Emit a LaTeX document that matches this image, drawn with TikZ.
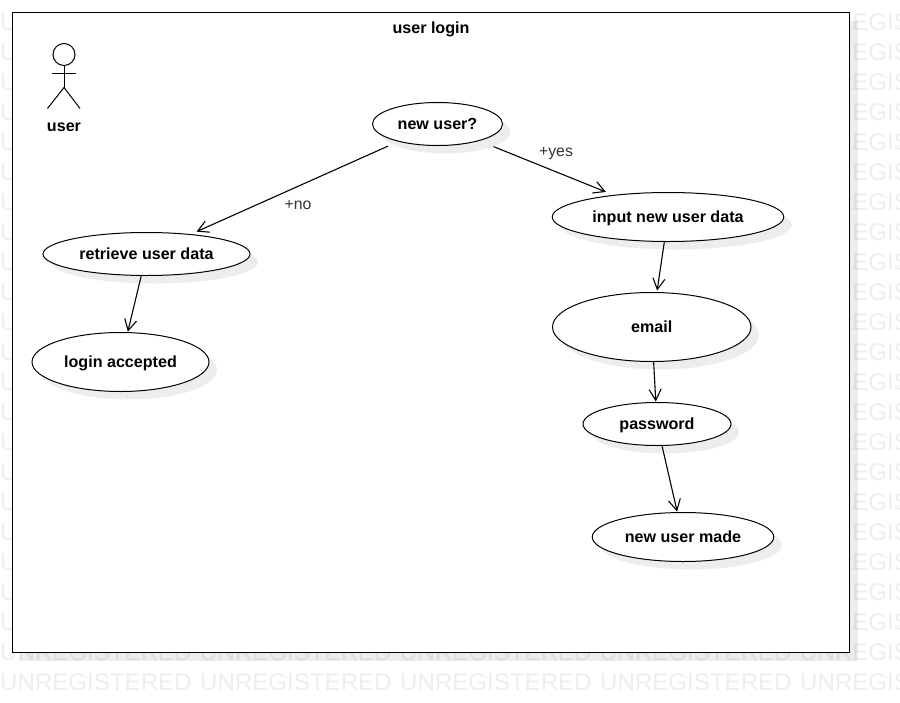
\documentclass[tikz,border=0pt]{standalone}
\usepackage{fontspec}
\setmainfont{Liberation Sans}
\usetikzlibrary{shapes.geometric,arrows.meta,shadows}
\definecolor{wmc}{HTML}{EEEEEE}
\tikzset{
  softshadow/.style={drop shadow={shadow xshift=8pt,shadow yshift=-8pt,fill=black,opacity=0.07}},
  usecase/.style={ellipse,draw=black,line width=1pt,fill=white,inner sep=0pt,outer sep=0pt,softshadow,
    text height=12.5pt,text depth=1.5pt,font=\fontsize{16.1pt}{19pt}\selectfont\bfseries},
  boxframe/.style={rectangle,draw=black,line width=1.1pt,fill=white,inner sep=0pt,outer sep=0pt,softshadow},
  wmark/.style={inner sep=0pt,anchor=west,text=wmc,font=\fontsize{24.1pt}{28pt}\selectfont},
  flow/.style={draw=black,line width=1.1pt,-{Straight Barb[length=11pt,width=12pt,line width=1.1pt]}},
  lbl/.style={inner sep=0pt,text height=12.5pt,text depth=1.5pt,font=\fontsize{15.8pt}{19pt}\selectfont,text=black!80},
  blbl/.style={inner sep=0pt,text height=12.5pt,text depth=1.5pt,font=\fontsize{16.1pt}{19pt}\selectfont\bfseries},
  stick/.style={draw=black,line width=1pt}
}
\begin{document}
\begin{tikzpicture}[x=1pt,y=-1pt]
\useasboundingbox (0,0) rectangle (900,702);
\fill[white] (0,0) rectangle (900,702);
\begin{scope}
\clip (0,0) rectangle (900,702);
\foreach \r in {0,...,22}{
  \foreach \c in {0,...,4}{
    \node[wmark] (wm\r c\c) at (200*\c,{22+30*\r}) {UNREGISTERED};
  }
}
\end{scope}
\node[boxframe,minimum width=837.5pt,minimum height=640pt] (frame) at (431,332.5) {};
\node[blbl] (title) at (431,28) {user login};
% actor
\node[circle,stick,minimum size=22pt,inner sep=0pt,outer sep=0pt] (head) at (64,54.5) {};
\coordinate (hip) at (64,87.5);
\coordinate (armL) at (52,73);
\coordinate (armR) at (75.5,73);
\coordinate (legL) at (47.5,108.5);
\coordinate (legR) at (80,108.5);
\draw[stick] (head.south) -- (hip);
\draw[stick] (armL) -- (armR);
\draw[stick] (legL) -- (hip) -- (legR);
\node[blbl] (actor) at (64,126) {user};
% use cases
\node[usecase,minimum width=130pt,minimum height=43pt] (newuser) at (437.5,124) {new user?};
\node[usecase,minimum width=207pt,minimum height=43pt] (retrieve) at (146.5,254) {retrieve user data};
\node[usecase,minimum width=177pt,minimum height=59pt] (accepted) at (120.5,362) {login accepted};
\node[usecase,minimum width=231.5pt,minimum height=49pt] (input) at (668,217) {input new user data};
\node[usecase,minimum width=198.5pt,minimum height=69pt] (email) at (651.75,327) {email};
\node[usecase,minimum width=148pt,minimum height=43pt] (password) at (657,424) {password};
\node[usecase,minimum width=181.5pt,minimum height=49pt] (made) at (683,537) {new user made};
% connectors
\draw[flow,shorten <=12pt,shorten >=7pt] (newuser) -- (retrieve);
\draw[flow,shorten <=16pt,shorten >=9pt] (newuser) -- (input);
\draw[flow,shorten <=0.5pt,shorten >=2pt] (input) -- (email);
\draw[flow,shorten <=0.5pt,shorten >=1pt] (email) -- (password);
\draw[flow,shorten <=0.5pt,shorten >=1pt] (password) -- (made);
\draw[flow,shorten <=0.5pt,shorten >=1pt] (retrieve) -- (accepted);
% labels
\node[lbl] (yes) at (556,151) {+yes};
\node[lbl] (no) at (298,204) {+no};
\end{tikzpicture}
\end{document}
